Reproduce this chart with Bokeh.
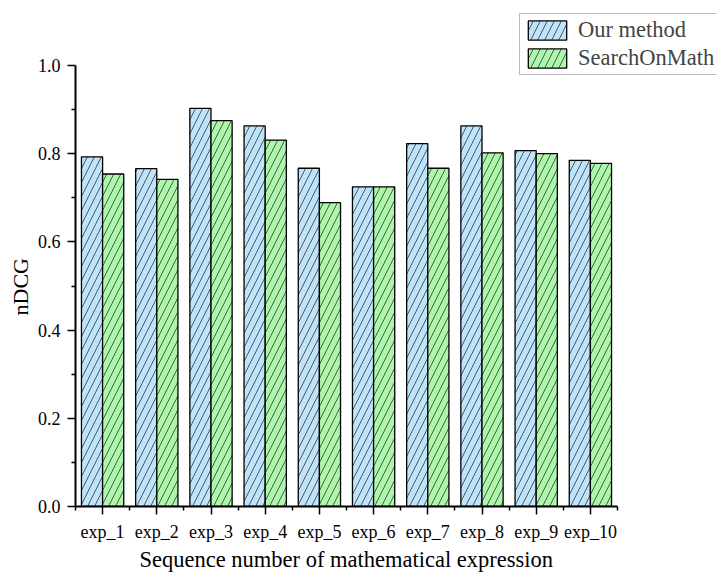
from bokeh.plotting import figure
from bokeh.models import (ColumnDataSource, Range1d, FixedTicker, Legend, LegendItem,
                          PrintfTickFormatter, Title)
from bokeh.transform import dodge
from bokeh.embed import file_html
from bokeh.resources import INLINE

categories = ["exp_1", "exp_2", "exp_3", "exp_4", "exp_5",
              "exp_6", "exp_7", "exp_8", "exp_9", "exp_10"]
our_method = [0.793, 0.766, 0.903, 0.863, 0.767, 0.725, 0.823, 0.863, 0.807, 0.785]
search_on_math = [0.754, 0.742, 0.875, 0.831, 0.689, 0.725, 0.767, 0.802, 0.800, 0.778]
y_ticks = [0.0, 0.2, 0.4, 0.6, 0.8, 1.0]
y_minor = [0.1, 0.3, 0.5, 0.7, 0.9]

xs = [i + 1 for i in range(len(categories))]
x_minor = [i + 0.5 for i in range(len(categories) + 1)]

source = ColumnDataSource(dict(x=xs, ours=our_method, som=search_on_math))

FONT = "Liberation Serif"

# layout (pixels)
W, H = 716, 577
LEFT, TOP, BOTTOM = 75, 8, 71
CAT_PX = 54.2          # width of one category
UNIT_PX = 441.0        # pixels for nDCG 0 -> 1
frame_w = W - LEFT
frame_h = H - TOP - BOTTOM
x_end = 0.5 + frame_w / CAT_PX
y_end = frame_h / UNIT_PX

p = figure(width=W, height=H,
           x_range=Range1d(0.5, x_end), y_range=Range1d(0, y_end),
           output_backend="svg", toolbar_location=None,
           min_border_left=LEFT, min_border_right=0, min_border_top=TOP,
           min_border_bottom=BOTTOM)
p.xgrid.visible = False
p.ygrid.visible = False
p.outline_line_color = None
p.background_fill_color = "white"

bw = 0.39
r1 = p.vbar(x=dodge("x", -bw / 2), top="ours", width=bw, source=source,
            fill_color="#bde4fb", line_color="black", line_width=1.3,
            hatch_pattern="/", hatch_scale=14, hatch_weight=0.8, hatch_color="#333333")
r2 = p.vbar(x=dodge("x", bw / 2), top="som", width=bw, source=source,
            fill_color="#adf7aa", line_color="black", line_width=1.3,
            hatch_pattern="/", hatch_scale=14, hatch_weight=0.8, hatch_color="#333333")

# axes
p.xaxis.ticker = FixedTicker(ticks=xs, minor_ticks=x_minor)
p.xaxis.major_label_overrides = {x: c for x, c in zip(xs, categories)}
p.xaxis.bounds = (0.5, len(categories) + 0.5)
p.yaxis.ticker = FixedTicker(ticks=y_ticks, minor_ticks=y_minor)
p.yaxis.formatter = PrintfTickFormatter(format="%.1f")
p.yaxis.bounds = (y_ticks[0], y_ticks[-1])

for ax in (p.xaxis, p.yaxis):
    ax.axis_line_width = 2
    ax.axis_line_color = "black"
    ax.major_tick_line_width = 1.5
    ax.minor_tick_line_width = 1.5
    ax.major_tick_line_color = "black"
    ax.minor_tick_line_color = "black"
    ax.major_tick_out = 8
    ax.major_tick_in = 0
    ax.minor_tick_out = 4
    ax.minor_tick_in = 0
    ax.major_label_text_font = FONT
    ax.major_label_text_font_size = "18px"
    ax.major_label_text_color = "black"

p.xaxis.major_label_standoff = 7
p.yaxis.major_label_standoff = 7

# axis titles (placed as titles so they stay centred on the bounded axes)
xt = Title(text="Sequence number of mathematical expression", align="left", offset=64,
           vertical_align="top", standoff=4,
           text_font=FONT, text_font_size="22.5px", text_font_style="normal",
           text_color="black")
p.add_layout(xt, "below")
yt = Title(text="nDCG", align="left", offset=191, standoff=4,
           text_font=FONT, text_font_size="22px", text_font_style="normal",
           text_color="black")
p.add_layout(yt, "left")

legend = Legend(items=[LegendItem(label="Our method", renderers=[r1]),
                       LegendItem(label="SearchOnMath", renderers=[r2])],
                location=(444, 431),
                label_text_font=FONT, label_text_font_size="22.5px",
                glyph_width=48, glyph_height=24, label_standoff=7,
                padding=3, spacing=2, margin=0,
                border_line_color="#777777", border_line_width=1.5,
                background_fill_color="white", background_fill_alpha=1.0)
p.add_layout(legend, "center")

open("out.html", "w").write(file_html(p, INLINE))
